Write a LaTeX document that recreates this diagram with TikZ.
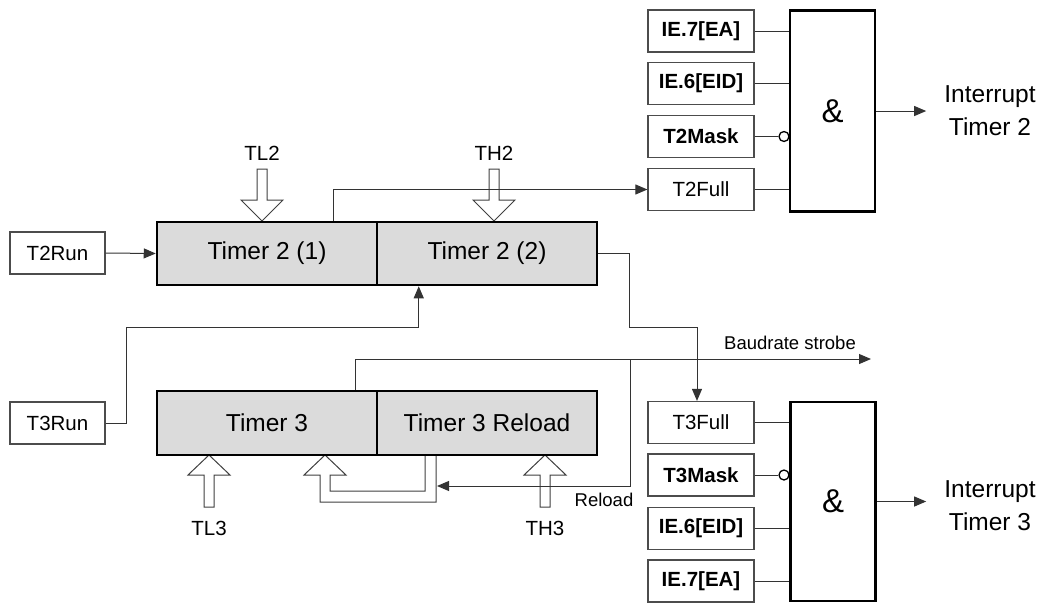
\documentclass[tikz,border=0pt]{standalone}
\usepackage{fontspec}
\setmainfont{Liberation Sans}
\usetikzlibrary{arrows.meta,calc}
\begin{document}
\begin{tikzpicture}[x=1pt,y=-1pt,
  line/.style={draw=black!80, line width=1pt},
  arr/.style={line, -{Triangle[length=12pt,width=10pt]}},
  sbox/.style={draw=black!70, line width=1.2pt, fill=white, inner sep=0pt, minimum width=106pt, minimum height=42pt, font=\fontsize{20.5}{22}\selectfont},
  bbox/.style={sbox, font=\bfseries\fontsize{20.5}{22}\selectfont},
  timer/.style={draw=black, line width=2.5pt, fill=black!14, inner sep=0pt, minimum width=220pt, minimum height=63pt, font=\fontsize{24.5}{26}\selectfont},
  gate/.style={draw=black, line width=2.2pt, fill=white, minimum width=85pt, minimum height=201pt, inner sep=0pt, font=\fontsize{33}{34}\selectfont},
  lbl/.style={inner sep=0pt, font=\fontsize{20.5}{22}\selectfont},
  slbl/.style={inner sep=0pt, font=\fontsize{18.5}{20}\selectfont},
  intlbl/.style={inner sep=0pt, align=center, font=\fontsize{24.5}{33}\selectfont},
  bubble/.style={circle, draw=black, line width=1.3pt, fill=white, minimum size=10pt, inner sep=0pt},
  hollow/.style={draw=black!75, line width=1pt, fill=white, line join=miter},
]
\path[use as bounding box] (0,0) rectangle (1044,603);

% hollow register arrows
\path[hollow] (257,169) -- (257,200) -- (241,200) -- (262,221) -- (283,200) -- (267,200) -- (267,169) -- cycle;
\path[hollow] (489,169) -- (489,200) -- (473,200) -- (494,221) -- (515,200) -- (499,200) -- (499,169) -- cycle;
\path[hollow] (204,507) -- (204,475) -- (188,475) -- (209,455) -- (230,475) -- (214,475) -- (214,507) -- cycle;
\path[hollow] (540,507) -- (540,475) -- (524,475) -- (545,455) -- (566,475) -- (550,475) -- (550,507) -- cycle;
\fill[white] (425,455) -- (425,491) -- (330,491) -- (330,475) -- (346,475) -- (325,455) -- (304,475) -- (320,475) -- (320,502) -- (436,502) -- (436,455) -- cycle;
\draw[hollow, fill=none] (425,455) -- (425,491) -- (330,491) -- (330,475) -- (346,475) -- (325,455) -- (304,475) -- (320,475) -- (320,502) -- (436,502) -- (436,455);

% labels of hollow arrows
\node[lbl] (tl2) at (262,153) {TL2};
\node[lbl] (th2) at (494,153) {TH2};
\node[lbl] (tl3) at (209,528) {TL3};
\node[lbl] (th3) at (545,528) {TH3};

% left boxes
\node[sbox, minimum width=95pt] (t2run) at (57.5,253) {T2Run};
\node[sbox, minimum width=95pt] (t3run) at (57.5,423) {T3Run};

% timers
\node[timer] (t21) at (267,253.5) {Timer 2 (1)};
\node[timer] (t22) at (487,253.5) {Timer 2 (2)};
\node[timer, minimum height=64pt] (t3) at (267,423) {Timer 3};
\node[timer, minimum height=64pt] (t3r) at (487,423) {Timer 3 Reload};

% interrupt 2 logic
\node[bbox] (ea2) at (701,31) {IE.7[EA]};
\node[bbox] (eid2) at (701,83.5) {IE.6[EID]};
\node[bbox] (mask2) at (701,136.5) {T2Mask};
\node[sbox] (full2) at (701,189.5) {T2Full};
\node[gate] (and2) at (832.5,111) {\&};
\node[bubble] (b2) at (784,136.5) {};
\node[intlbl] (int2) at (990,111) {Interrupt\\Timer 2};

% interrupt 3 logic
\node[sbox] (full3) at (701,422.5) {T3Full};
\node[bbox] (mask3) at (701,475) {T3Mask};
\node[bbox] (eid3) at (701,528.5) {IE.6[EID]};
\node[bbox] (ea3) at (701,581) {IE.7[EA]};
\node[gate, minimum height=199pt] (and3) at (833,501.5) {\&};
\node[bubble] (b3) at (784,475) {};
\node[intlbl] (int3) at (990,506) {Interrupt\\Timer 3};

% gate inputs
\draw[line] (ea2.east) -- (ea2.east -| and2.west);
\draw[line] (eid2.east) -- (eid2.east -| and2.west);
\draw[line] (mask2.east) -- (b2.west);
\draw[line] (full2.east) -- (full2.east -| and2.west);
\draw[line] (full3.east) -- (full3.east -| and3.west);
\draw[line] (mask3.east) -- (b3.west);
\draw[line] (eid3.east) -- (eid3.east -| and3.west);
\draw[line] (ea3.east) -- (ea3.east -| and3.west);

% gate outputs
\draw[arr] (and2.east) -- ([xshift=-18pt]and2.east -| int2.west);
\draw[arr] (and3.east) -- ([xshift=-18pt]and3.east -| int3.west);

% timer connections
\draw[arr] (t2run.east) -- (t21.west);
\draw[arr] ([xshift=178pt]t21.north west) |- (full2.west);
\draw[arr] (t22.east) -| (629,327) -| ([xshift=-4pt]full3.north);
\draw[arr] (t3run.east) -| (126,327) -| ([xshift=43pt]t22.south west);

% baudrate strobe and reload
\coordinate (baud) at (871,359);
\coordinate (rlj) at (630,359);
\coordinate (rle) at (437,486);
\draw[arr] ([xshift=200pt]t3.north west) |- (baud);
\node[slbl] (baudl) at (790,343) {Baudrate strobe};
\draw[arr] (rlj) |- (rle);
\node[slbl] (rll) at (604,500) {Reload};
\end{tikzpicture}
\end{document}
